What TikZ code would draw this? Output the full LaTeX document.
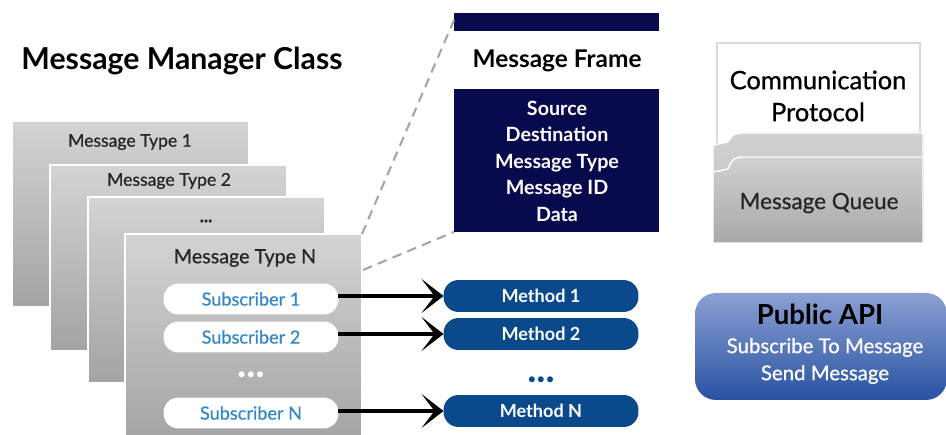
\documentclass[tikz,border=0pt]{standalone}
\usepackage{fontspec}
\setmainfont{Lato}
\newfontfamily\medium{Lato}[FakeBold=0.7]
\usetikzlibrary{positioning}
\usetikzlibrary{arrows.meta}

\begin{document}
\begin{tikzpicture}[x=0.02cm, y=-0.02cm,
    %Option for big arrows
    >={Stealth[length=0.44cm, width=0.68cm, inset=0.26cm]}, %
    inner sep=0pt, outer sep=0pt,%
    typebox/.style={draw=white, line width=0.6pt, top color=black!17, bottom color=black!36,
        anchor=north west, minimum width=4.74cm, minimum height=3.72cm},
    typelabel/.style={font=\medium\fontsize{10}{12}\selectfont, text=black!85},
    subpill/.style={fill=white, rounded corners=0.3cm, minimum width=3.5cm, minimum height=0.62cm,
        text=subblue, font=\medium\fontsize{10.3}{12}\selectfont},
    methpill/.style={fill=methblue, rounded corners=0.3cm, minimum width=3.9cm, minimum height=0.64cm,
        text=white, font=\bfseries\fontsize{10.3}{12}\selectfont},
    link/.style={line width=2.2pt, ->},
    zoomline/.style={draw=black!35, line width=1.2pt, dash pattern=on 5.5pt off 3.6pt},
]
    % Colors
    \definecolor{subblue}{RGB}{52,136,200}
    \definecolor{methblue}{RGB}{10,74,140}
    \definecolor{framenavy}{RGB}{8,10,78}
    \definecolor{apitop}{RGB}{140,160,210}
    \definecolor{apibottom}{RGB}{40,82,162}

    \useasboundingbox (0,0) rectangle (946,435);

    % Title
    \node (title) at (182,61) {\bfseries\fontsize{17.2}{20}\selectfont Message Manager Class};

    % Stack of message types
    \node[typebox] (type1) at (12,121) {};
    \node[typelabel] (label1) at (130,142) {Message Type 1};
    \node[typebox] (type2) at (50,165) {};
    \node[typelabel] (label2) at (169,181) {Message Type 2};
    \node[typebox] (type3) at (88,197) {};
    \node[typelabel] (label3) at (206,221) {\bfseries ...};
    \node[typebox, minimum height=4.2cm] (typeN) at (125,234) {};
    \node[typelabel, font=\medium\fontsize{11.2}{13}\selectfont] (labelN) at (245,258) {Message Type N};

    % Subscribers
    \node[subpill] (sub1) at (251,299) {Subscriber 1};
    \node[subpill] (sub2) at (251,337) {Subscriber 2};
    \node[text=white, font=\fontsize{9}{10}\selectfont] (subdots) at (251,376) {•••};
    \node[subpill] (subN) at (251,413) {Subscriber N};

    % Methods
    \node[methpill] (meth1) at (541,296) {Method 1};
    \node[methpill] (meth2) at (541,334) {Method 2};
    \node[text=methblue, font=\fontsize{9}{10}\selectfont] (methdots) at (541,381) {•••};
    \node[methpill] (methN) at (541,411) {Method N};

    \draw[link] (sub1.east |- meth1.west) -- (meth1.west);
    \draw[link] (sub2.east |- meth2.west) -- (meth2.west);
    \draw[link] (subN.east |- methN.west) -- (methN.west);

    % Message frame
    \node[fill=framenavy, anchor=north west, minimum width=4.1cm, minimum height=0.36cm] (framebar) at (454,13) {};
    \node (frametitle) at (557,61) {\bfseries\fontsize{13.9}{16}\selectfont Message Frame};
    \node[fill=framenavy, anchor=north west, minimum width=4.1cm, minimum height=2.86cm] (framebox) at (454,89) {};
    \node[text=white, align=center, font=\bfseries\fontsize{11.2}{15.1}\selectfont] (fields) at (557,161)
        {Source\\Destination\\Message Type\\Message ID\\Data};

    \coordinate (zoomlow) at (363,270);
    \draw[zoomline] (typeN.north east) -- ([yshift=-0.14cm]framebar.north west);
    \draw[zoomline] (zoomlow) -- (framebox.south west);

    % Communication protocol with message queue
    \node[draw=black!15, line width=0.8pt, fill=white, anchor=north west, minimum width=4.06cm,
        minimum height=2.1cm] (protobox) at (717,43) {};
    \node[align=center, font=\medium\fontsize{14.5}{18.2}\selectfont] (protolabel) at (818,96)
        {Communication\\Protocol};
    \filldraw[draw=white, line width=0.8pt, top color=black!18, bottom color=black!26]
        (713,243) -- (713,145) -- (728,142) .. controls (733,134) .. (742,133) -- (923,133) -- (923,243) -- cycle;
    \filldraw[draw=white, line width=0.8pt, top color=black!18, bottom color=black!34]
        (713,243) -- (713,172) -- (728,169) .. controls (733,158) .. (742,157) -- (923,157) -- (923,243) -- cycle;
    \node[font=\medium\fontsize{12.8}{15}\selectfont, text=black!85] (queue) at (819,203) {Message Queue};

    % Public API
    \node[rounded corners=0.42cm, top color=apitop, bottom color=apibottom, anchor=north west,
        minimum width=5.04cm, minimum height=2.14cm] (apibox) at (695,293) {};
    \node (apititle) at (820,314) {\bfseries\fontsize{15.7}{18}\selectfont Public API};
    \node[text=white, align=center, font=\medium\fontsize{11.6}{15.4}\selectfont] (apicalls) at (825,361)
        {Subscribe To Message\\Send Message};

\end{tikzpicture}
\end{document}
